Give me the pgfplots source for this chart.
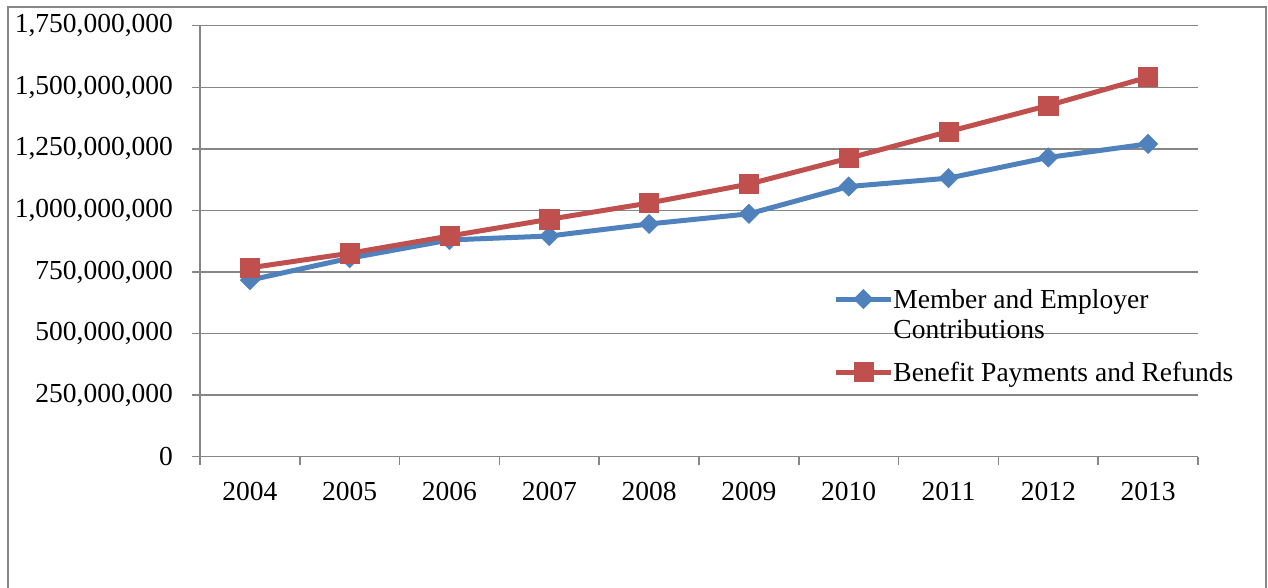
\documentclass[border=0pt]{standalone}
\usepackage{fontspec}
\setmainfont{Liberation Serif}
\usepackage{pgfplots}
\pgfplotsset{compat=1.18}
\definecolor{serblue}{HTML}{4F81BD}
\definecolor{serred}{HTML}{C0504D}
\definecolor{gridgray}{HTML}{868686}

\begin{document}
\begin{tikzpicture}[font=\fontsize{13.75pt}{15pt}\selectfont]
\begin{axis}[
  at={(100pt,65.65pt)}, anchor=south west,
  scale only axis, width=499pt, height=215.5pt,
  xmin=-0.5, xmax=9.5, ymin=0, ymax=1750000000,
  axis lines=left,
  axis line style={-, draw=gridgray, line width=0.75pt},
  xtick={-0.5,0.5,1.5,2.5,3.5,4.5,5.5,6.5,7.5,8.5,9.5},
  x tick label as interval,
  xticklabels={2004,2005,2006,2007,2008,2009,2010,2011,2012,2013},
  ytick={0,250000000,500000000,750000000,1000000000,1250000000,1500000000,1750000000},
  tick align=outside, major tick length=4pt,
  tick style={draw=gridgray, line width=0.75pt},
  ymajorgrids, grid style={draw=gridgray, line width=0.75pt},
  scaled y ticks=false,
  yticklabel style={xshift=-6pt, /pgf/number format/.cd, fixed, precision=0, 1000 sep={,}, assume math mode=true},
  xticklabel style={yshift=-5pt},
  legend image code/.code={%
    \draw[mark repeat=2, mark phase=2, #1] plot coordinates {(0pt,0pt) (13.75pt,0pt) (27.5pt,0pt)};},
  legend style={draw=none, fill=none, at={(0.6343,0.3945)}, anchor=north west,
    inner sep=0pt, row sep=24.5pt, legend cell align=left,
    nodes={inner sep=0pt},
    /tikz/every even column/.append style={column sep=2pt}},
]
\addplot[serblue, line width=2.5pt, mark=square*, mark size=3.4pt,
  mark options={solid, rotate=45, fill=serblue, draw=serblue, line width=0.3pt}]
  coordinates {(0,717000000) (1,806000000) (2,880000000) (3,896000000) (4,945000000)
               (5,986000000) (6,1097000000) (7,1131000000) (8,1215000000) (9,1270000000)};
\addlegendentry{\begin{tabular}[t]{@{}l@{}}Member and Employer\\Contributions\end{tabular}}
\addplot[serred, line width=2.5pt, mark=square*, mark size=4.8pt,
  mark options={solid, fill=serred, draw=serred, line width=0.3pt}]
  coordinates {(0,767000000) (1,826000000) (2,896000000) (3,964000000) (4,1030000000)
               (5,1107000000) (6,1212000000) (7,1320000000) (8,1426000000) (9,1541000000)};
\addlegendentry{\begin{tabular}[t]{@{}l@{}}Benefit Payments and Refunds\end{tabular}}
\end{axis}
\draw[gridgray, line width=0.75pt] (4pt,-10pt) rectangle (633pt,290.5pt);
\pgfresetboundingbox
\path[use as bounding box] (0pt,0pt) rectangle (634pt,294pt);
\end{tikzpicture}
\end{document}
